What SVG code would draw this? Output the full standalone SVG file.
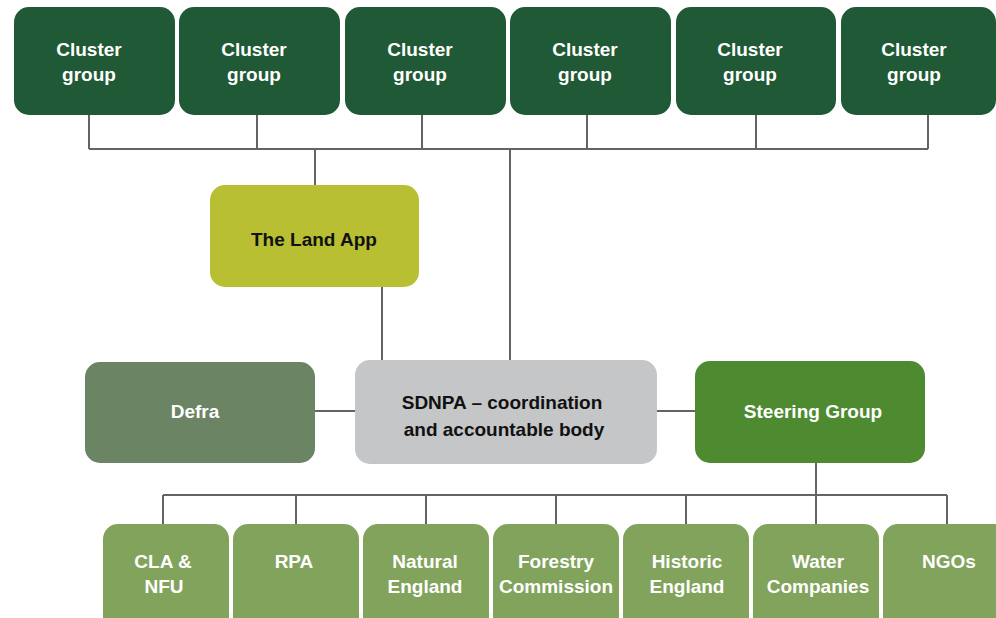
<svg xmlns="http://www.w3.org/2000/svg" width="996" height="618" viewBox="0 0 996 618">
<style>
.ln{stroke:#646464;stroke-width:2;fill:none}
.t{font-family:"Liberation Sans",Arial,sans-serif;font-weight:bold;font-size:19px;text-anchor:middle}
.w{fill:#ffffff}
.k{fill:#111111}
.cg{fill:#1f5935}
.bg{fill:#82a35c}
</style>
<rect width="996" height="618" fill="#ffffff"/>
<g id="connectors">
<path class="ln" d="M89,115V149M257,115V149M422,115V149M587,115V149M756,115V149M928,115V149M89,149H928"/>
<path class="ln" d="M315,149V185M510,149V360M382,287V360"/>
<path class="ln" d="M315,411H355M657,411H695"/>
<path class="ln" d="M816,463V495M163,495H947M163,495V524M296,495V524M426,495V524M556,495V524M686,495V524M816,495V524M947,495V524"/>
</g>
<g id="cluster1"><rect class="cg" x="14" y="7" width="161" height="108" rx="15"/><text class="t w" x="89" y="56">Cluster</text><text class="t w" x="89" y="81">group</text></g>
<g id="cluster2"><rect class="cg" x="179" y="7" width="161" height="108" rx="15"/><text class="t w" x="254" y="56">Cluster</text><text class="t w" x="254" y="81">group</text></g>
<g id="cluster3"><rect class="cg" x="345" y="7" width="161" height="108" rx="15"/><text class="t w" x="420" y="56">Cluster</text><text class="t w" x="420" y="81">group</text></g>
<g id="cluster4"><rect class="cg" x="510" y="7" width="161" height="108" rx="15"/><text class="t w" x="585" y="56">Cluster</text><text class="t w" x="585" y="81">group</text></g>
<g id="cluster5"><rect class="cg" x="676" y="7" width="160" height="108" rx="15"/><text class="t w" x="750" y="56">Cluster</text><text class="t w" x="750" y="81">group</text></g>
<g id="cluster6"><rect class="cg" x="841" y="7" width="155" height="108" rx="15"/><text class="t w" x="914" y="56">Cluster</text><text class="t w" x="914" y="81">group</text></g>
<g id="landapp"><rect x="210" y="185" width="209" height="102" rx="15" fill="#b9bf33"/><text class="t k" x="314" y="246">The Land App</text></g>
<g id="defra"><rect x="85" y="362" width="230" height="101" rx="15" fill="#6a8464"/><text class="t w" x="195" y="418">Defra</text></g>
<g id="sdnpa"><rect x="355" y="360" width="302" height="104" rx="15" fill="#c4c6c8"/><text class="t k" x="502" y="409">SDNPA – coordination</text><text class="t k" x="504" y="436">and accountable body</text></g>
<g id="steering"><rect x="695" y="361" width="230" height="102" rx="15" fill="#4d8a30"/><text class="t w" x="813" y="418">Steering Group</text></g>
<g id="cla"><rect class="bg" x="103" y="524" width="126" height="110" rx="15"/><text class="t w" x="163" y="568">CLA &amp;</text><text class="t w" x="164" y="593">NFU</text></g>
<g id="rpa"><rect class="bg" x="233" y="524" width="126" height="110" rx="15"/><text class="t w" x="294" y="568">RPA</text></g>
<g id="naturalengland"><rect class="bg" x="363" y="524" width="126" height="110" rx="15"/><text class="t w" x="425" y="568">Natural</text><text class="t w" x="425" y="593">England</text></g>
<g id="forestry"><rect class="bg" x="493" y="524" width="126" height="110" rx="15"/><text class="t w" x="556" y="568">Forestry</text><text class="t w" x="556" y="593">Commission</text></g>
<g id="historic"><rect class="bg" x="623" y="524" width="126" height="110" rx="15"/><text class="t w" x="687" y="568">Historic</text><text class="t w" x="687" y="593">England</text></g>
<g id="water"><rect class="bg" x="753" y="524" width="126" height="110" rx="15"/><text class="t w" x="818" y="568">Water</text><text class="t w" x="818" y="593">Companies</text></g>
<g id="ngos"><rect class="bg" x="883" y="524" width="126" height="110" rx="15"/><text class="t w" x="949" y="568">NGOs</text></g>
</svg>
